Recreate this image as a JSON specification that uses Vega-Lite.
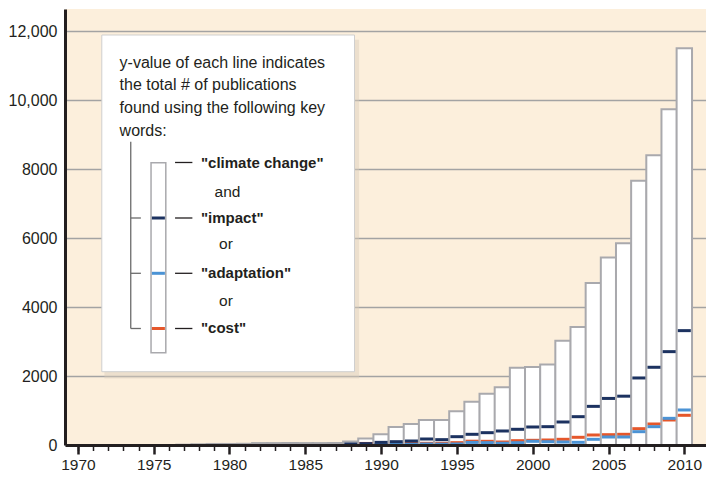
{
  "$schema": "https://vega.github.io/schema/vega-lite/v6.json",
  "width": 641,
  "height": 436,
  "autosize": "none",
  "padding": {"left": 65, "top": 9, "right": 0, "bottom": 33},
  "background": "#ffffff",
  "config": {
    "view": {"fill": "#fcefdc", "stroke": null},
    "font": "Liberation Sans",
    "text": {"font": "Liberation Sans", "color": "#231f20"},
    "tick": {"opacity": 1}
  },
  "datasets": {
    "one": [{}],
    "pubs": [
      {"year": 1977, "total": 10},
      {"year": 1978, "total": 20},
      {"year": 1979, "total": 30},
      {"year": 1980, "total": 30},
      {"year": 1981, "total": 35},
      {"year": 1982, "total": 55},
      {"year": 1983, "total": 55},
      {"year": 1984, "total": 60},
      {"year": 1985, "total": 55},
      {"year": 1986, "total": 55},
      {"year": 1987, "total": 60},
      {"year": 1988, "total": 100, "impact": 30},
      {"year": 1989, "total": 185, "impact": 40, "cost": 45},
      {"year": 1990, "total": 310, "impact": 77, "adaptation": 15, "cost": 10},
      {"year": 1991, "total": 522, "impact": 96, "adaptation": 20, "cost": 30},
      {"year": 1992, "total": 609, "impact": 116, "adaptation": 20, "cost": 58},
      {"year": 1993, "total": 725, "impact": 174, "adaptation": 29, "cost": 48},
      {"year": 1994, "total": 725, "impact": 155, "adaptation": 25, "cost": 48},
      {"year": 1995, "total": 976, "impact": 241, "adaptation": 29, "cost": 68},
      {"year": 1996, "total": 1256, "impact": 310, "adaptation": 75, "cost": 110},
      {"year": 1997, "total": 1488, "impact": 357, "adaptation": 68, "cost": 107},
      {"year": 1998, "total": 1671, "impact": 406, "adaptation": 50, "cost": 87},
      {"year": 1999, "total": 2242, "impact": 455, "adaptation": 67, "cost": 125},
      {"year": 2000, "total": 2262, "impact": 522, "adaptation": 107, "cost": 136},
      {"year": 2001, "total": 2330, "impact": 531, "adaptation": 96, "cost": 145},
      {"year": 2002, "total": 3025, "impact": 667, "adaptation": 87, "cost": 165},
      {"year": 2003, "total": 3422, "impact": 821, "adaptation": 78, "cost": 223},
      {"year": 2004, "total": 4698, "impact": 1120, "adaptation": 165, "cost": 290},
      {"year": 2005, "total": 5432, "impact": 1350, "adaptation": 232, "cost": 299},
      {"year": 2006, "total": 5849, "impact": 1415, "adaptation": 232, "cost": 310},
      {"year": 2007, "total": 7656, "impact": 1943, "adaptation": 386, "cost": 473},
      {"year": 2008, "total": 8400, "impact": 2253, "adaptation": 531, "cost": 609},
      {"year": 2009, "total": 9732, "impact": 2706, "adaptation": 773, "cost": 725},
      {"year": 2010, "total": 11500, "impact": 3315, "adaptation": 1015, "cost": 861}
    ]
  },
  "resolve": {"axis": {"x": "independent"}},
  "layer": [
    {
      "data": {"name": "pubs"},
      "mark": {"type": "bar", "orient": "vertical", "width": 15.4, "fill": "#ffffff", "stroke": "#a9a9ad", "strokeWidth": 2},
      "encoding": {
        "x": {
          "field": "year", "type": "quantitative",
          "scale": {"domain": [1969.48, 2011.1], "nice": false, "zero": false},
          "axis": {
            "orient": "bottom",
            "title": null,
            "values": [1970, 1975, 1980, 1985, 1990, 1995, 2000, 2005, 2010],
            "format": "d",
            "grid": false,
            "zindex": 1,
            "domainColor": "#231f20",
            "domainWidth": 3,
            "tickColor": "#231f20",
            "tickSize": 9,
            "tickWidth": 2.5,
            "labelFont": "Liberation Sans",
            "labelFontSize": 15.5,
            "labelColor": "#231f20",
            "labelPadding": 3,
            "labelFlush": false,
            "labelOverlap": false,
            "labelBound": false
          }
        },
        "y": {
          "field": "total", "type": "quantitative",
          "scale": {"domain": [0, 12638], "nice": false},
          "axis": {
            "title": null,
            "values": [0, 2000, 4000, 6000, 8000, 10000, 12000],
            "labelExpr": "datum.value >= 10000 ? format(datum.value, ',') : format(datum.value, 'd')",
            "ticks": false,
            "grid": true,
            "gridColor": "#a3a3a3",
            "gridWidth": 1.5,
            "domainColor": "#231f20",
            "domainWidth": 3,
            "labelFont": "Liberation Sans",
            "labelFontSize": 16,
            "labelColor": "#231f20",
            "labelPadding": 8,
            "labelFlush": false,
            "labelOverlap": false
          }
        }
      }
    },
    {
      "data": {"name": "pubs"},
      "transform": [{"fold": ["cost", "adaptation", "impact"], "as": ["keyword", "count"]}],
      "mark": {"type": "tick", "orient": "horizontal", "size": 13, "thickness": 3, "opacity": 1},
      "encoding": {
        "x": {
          "field": "year", "type": "quantitative",
          "axis": {
            "orient": "bottom",
            "title": null,
            "values": [1970,1971,1972,1973,1974,1976,1977,1978,1979,1981,1982,1983,1984,1986,1987,1988,1989,1991,1992,1993,1994,1996,1997,1998,1999,2001,2002,2003,2004,2006,2007,2008,2009],
            "labels": false,
            "grid": false,
            "domain": false,
            "zindex": 1,
            "tickColor": "#231f20",
            "tickSize": 5.5,
            "tickWidth": 1.5
          }
        },
        "y": {"field": "count", "type": "quantitative"},
        "color": {
          "field": "keyword", "type": "nominal",
          "scale": {"domain": ["impact", "adaptation", "cost"], "range": ["#1c3260", "#4b93d5", "#e5572b"]},
          "legend": null
        }
      }
    },
    {
      "data": {"name": "one"},
      "mark": {"type": "rect", "fill": "#d9cdbb", "opacity": 0.45},
      "encoding": {
        "x": {"datum": 1971.75, "type": "quantitative", "axis": null},
        "x2": {"datum": 1988.55},
        "y": {"datum": 11750, "type": "quantitative"},
        "y2": {"datum": 1930}
      }
    },
    {
      "data": {"name": "one"},
      "mark": {"type": "rect", "fill": "#ffffff", "stroke": "#cfcfcf", "strokeWidth": 1},
      "encoding": {
        "x": {"datum": 1971.578, "type": "quantitative", "axis": null},
        "x2": {"datum": 1988.247},
        "y": {"datum": 11884, "type": "quantitative"},
        "y2": {"datum": 2125}
      }
    },
    {
      "data": {"name": "one"},
      "mark": {"type": "text", "align": "left", "baseline": "middle", "fontSize": 16, "lineHeight": 22.7,
        "text": ["y-value of each line indicates", "the total # of publications", "found using the following key", "words:"]},
      "encoding": {
        "x": {"datum": 1972.75, "type": "quantitative", "axis": null},
        "y": {"datum": 11081, "type": "quantitative"}
      }
    },
    {
      "data": {"name": "one"},
      "mark": {"type": "rect", "fill": "#ffffff", "stroke": "#a9a9ad", "strokeWidth": 1.5},
      "encoding": {
        "x": {"datum": 1974.825, "type": "quantitative", "axis": null},
        "x2": {"datum": 1975.799},
        "y": {"datum": 8183, "type": "quantitative"},
        "y2": {"datum": 2675}
      }
    },
    {
      "data": {"name": "one"},
      "mark": {"type": "tick", "orient": "horizontal", "size": 13, "thickness": 3, "opacity": 1, "color": "#1c3260"},
      "encoding": {"x": {"datum": 1975.31, "type": "quantitative", "axis": null}, "y": {"datum": 6580, "type": "quantitative"}}
    },
    {
      "data": {"name": "one"},
      "mark": {"type": "tick", "orient": "horizontal", "size": 13, "thickness": 3, "opacity": 1, "color": "#4b93d5"},
      "encoding": {"x": {"datum": 1975.31, "type": "quantitative", "axis": null}, "y": {"datum": 4977, "type": "quantitative"}}
    },
    {
      "data": {"name": "one"},
      "mark": {"type": "tick", "orient": "horizontal", "size": 13, "thickness": 3, "opacity": 1, "color": "#e5572b"},
      "encoding": {"x": {"datum": 1975.31, "type": "quantitative", "axis": null}, "y": {"datum": 3377, "type": "quantitative"}}
    },
    {
      "data": {"name": "one"},
      "mark": {"type": "rule", "color": "#6b6b6b", "strokeWidth": 1.3},
      "encoding": {"x": {"datum": 1973.487, "type": "quantitative", "axis": null}, "y": {"datum": 8791, "type": "quantitative"}, "y2": {"datum": 3377}}
    },
    {
      "data": {"name": "one"},
      "mark": {"type": "rule", "color": "#6b6b6b", "strokeWidth": 1.3},
      "encoding": {"x": {"datum": 1973.487, "type": "quantitative", "axis": null}, "x2": {"datum": 1974.156}, "y": {"datum": 6580, "type": "quantitative"}}
    },
    {
      "data": {"name": "one"},
      "mark": {"type": "rule", "color": "#6b6b6b", "strokeWidth": 1.3},
      "encoding": {"x": {"datum": 1973.487, "type": "quantitative", "axis": null}, "x2": {"datum": 1974.156}, "y": {"datum": 4977, "type": "quantitative"}}
    },
    {
      "data": {"name": "one"},
      "mark": {"type": "rule", "color": "#6b6b6b", "strokeWidth": 1.3},
      "encoding": {"x": {"datum": 1973.487, "type": "quantitative", "axis": null}, "x2": {"datum": 1974.156}, "y": {"datum": 3377, "type": "quantitative"}}
    },
    {
      "data": {"name": "one"},
      "mark": {"type": "rule", "color": "#231f20", "strokeWidth": 1.3},
      "encoding": {"x": {"datum": 1976.409, "type": "quantitative", "axis": null}, "x2": {"datum": 1977.552}, "y": {"datum": 8189, "type": "quantitative"}}
    },
    {
      "data": {"name": "one"},
      "mark": {"type": "rule", "color": "#231f20", "strokeWidth": 1.3},
      "encoding": {"x": {"datum": 1976.409, "type": "quantitative", "axis": null}, "x2": {"datum": 1977.552}, "y": {"datum": 6580, "type": "quantitative"}}
    },
    {
      "data": {"name": "one"},
      "mark": {"type": "rule", "color": "#231f20", "strokeWidth": 1.3},
      "encoding": {"x": {"datum": 1976.409, "type": "quantitative", "axis": null}, "x2": {"datum": 1977.552}, "y": {"datum": 4977, "type": "quantitative"}}
    },
    {
      "data": {"name": "one"},
      "mark": {"type": "rule", "color": "#231f20", "strokeWidth": 1.3},
      "encoding": {"x": {"datum": 1976.409, "type": "quantitative", "axis": null}, "x2": {"datum": 1977.552}, "y": {"datum": 3377, "type": "quantitative"}}
    },
    {
      "data": {"name": "one"},
      "mark": {"type": "text", "align": "left", "baseline": "middle", "fontSize": 15, "fontWeight": "bold", "text": "\"climate change\""},
      "encoding": {"x": {"datum": 1978.117, "type": "quantitative", "axis": null}, "y": {"datum": 8180, "type": "quantitative"}}
    },
    {
      "data": {"name": "one"},
      "mark": {"type": "text", "align": "center", "baseline": "middle", "fontSize": 15.5, "text": "and"},
      "encoding": {"x": {"datum": 1979.87, "type": "quantitative", "axis": null}, "y": {"datum": 7342, "type": "quantitative"}}
    },
    {
      "data": {"name": "one"},
      "mark": {"type": "text", "align": "left", "baseline": "middle", "fontSize": 15, "fontWeight": "bold", "text": "\"impact\""},
      "encoding": {"x": {"datum": 1978.117, "type": "quantitative", "axis": null}, "y": {"datum": 6580, "type": "quantitative"}}
    },
    {
      "data": {"name": "one"},
      "mark": {"type": "text", "align": "center", "baseline": "middle", "fontSize": 15.5, "text": "or"},
      "encoding": {"x": {"datum": 1979.77, "type": "quantitative", "axis": null}, "y": {"datum": 5817, "type": "quantitative"}}
    },
    {
      "data": {"name": "one"},
      "mark": {"type": "text", "align": "left", "baseline": "middle", "fontSize": 15, "fontWeight": "bold", "text": "\"adaptation\""},
      "encoding": {"x": {"datum": 1978.117, "type": "quantitative", "axis": null}, "y": {"datum": 4977, "type": "quantitative"}}
    },
    {
      "data": {"name": "one"},
      "mark": {"type": "text", "align": "center", "baseline": "middle", "fontSize": 15.5, "text": "or"},
      "encoding": {"x": {"datum": 1979.77, "type": "quantitative", "axis": null}, "y": {"datum": 4174, "type": "quantitative"}}
    },
    {
      "data": {"name": "one"},
      "mark": {"type": "text", "align": "left", "baseline": "middle", "fontSize": 15, "fontWeight": "bold", "text": "\"cost\""},
      "encoding": {"x": {"datum": 1978.117, "type": "quantitative", "axis": null}, "y": {"datum": 3377, "type": "quantitative"}}
    }
  ]
}
